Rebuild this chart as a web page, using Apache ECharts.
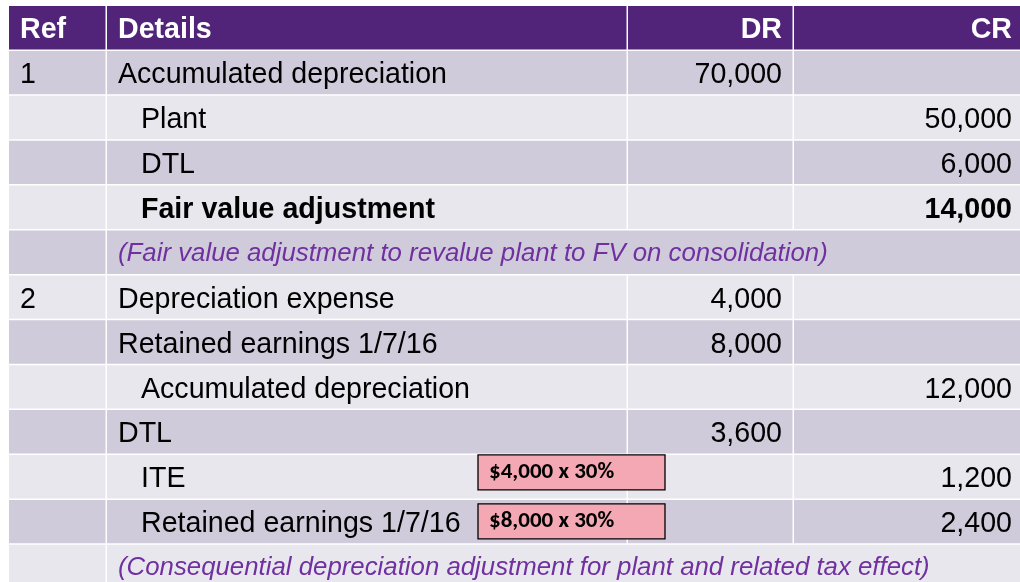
<!DOCTYPE html>
<html>
<head>
<meta charset="utf-8">
<script src="https://cdn.jsdelivr.net/npm/echarts@6/dist/echarts.min.js"></script>
<style>html,body{margin:0;padding:0;background:#fff;}#c{width:1020px;height:582px;}</style>
</head>
<body>
<div id="c"></div>
<script>
// ---- data ----
var headers = ['Ref', 'Details', 'DR', 'CR'];
var refs = ['1', '', '', '', '', '2', '', '', '', '', '', ''];
var details = [
  'Accumulated depreciation',
  'Plant',
  'DTL',
  'Fair value adjustment',
  '(Fair value adjustment to revalue plant to FV on consolidation)',
  'Depreciation expense',
  'Retained earnings 1/7/16',
  'Accumulated depreciation',
  'DTL',
  'ITE',
  'Retained earnings 1/7/16',
  '(Consequential depreciation adjustment for plant and related tax effect)'
];
var drValues = [70000, null, null, null, null, 4000, 8000, null, 3600, null, null, null];
var crValues = [null, 50000, 6000, 14000, null, null, null, 12000, null, 1200, 2400, null];
var rowKind = ['entry', 'entry', 'entry', 'entry', 'note', 'entry', 'entry', 'entry', 'entry', 'entry', 'entry', 'note'];
var indented = [false, true, true, true, false, false, false, true, false, true, true, false];
var boldRow = [false, false, false, true, false, false, false, false, false, false, false, false];
var annotations = ['', '', '', '', '', '', '', '', '', '$4,000 x 30%', '$8,000 x 30%', ''];

// ---- layout (styling, not data) ----
var colEdges = [0, 98, 619, 785, 1011]; // axis units = px inside grid
var annotationDy = { 9: -5, 10: -1 };    // vertical nudge of callout boxes (px)
var HEADER_BG = '#51247A';
var DARK_BG = '#CFCBDA';
var LIGHT_BG = '#E8E7EE';
var NOTE_COLOR = '#7030A0';
var FONT = 'Liberation Sans, Arial, sans-serif';
var FS = 28.6;
var TEXT_DY = 2;

var rowNames = ['header'].concat(details.map(function (d, i) { return 'r' + i; }));
var seriesData = rowNames.map(function (n, i) { return [i]; });

function fmt(v) { return v == null ? '' : v.toLocaleString('en-US'); }

function renderItem(params, api) {
  var idx = api.value(0);
  var yc = api.coord([0, idx])[1];
  var h = api.size([0, 1])[1];
  var top = yc - h / 2;
  var xs = colEdges.map(function (e) { return api.coord([e, idx])[0]; });
  var children = [];
  var gap = 1.5;
  function cell(x0, x1, fill) {
    children.push({
      type: 'rect',
      shape: { x: x0, y: top, width: x1 - x0 - gap, height: h - gap },
      style: { fill: fill }
    });
  }
  function txt(str, x, align, opts) {
    opts = opts || {};
    children.push({
      type: 'text',
      style: {
        text: str, x: x, y: yc + TEXT_DY + (opts.dy || 0),
        align: align, verticalAlign: 'middle',
        fontFamily: opts.family || FONT,
        fontSize: opts.size || FS,
        fontWeight: opts.weight || 'normal',
        fontStyle: opts.style || 'normal',
        fill: opts.color || '#000'
      }
    });
  }
  if (idx === 0) {
    for (var c = 0; c < 4; c++) cell(xs[c], xs[c + 1] + (c === 3 ? gap : 0), HEADER_BG);
    var o = { weight: 'bold', color: '#fff' };
    txt(headers[0], xs[0] + 11, 'left', o);
    txt(headers[1], xs[1] + 11, 'left', o);
    txt(headers[2], xs[3] - 12, 'right', o);
    txt(headers[3], xs[4] - 8, 'right', o);
    return { type: 'group', children: children };
  }
  var r = idx - 1;
  var bg = (r % 2 === 0) ? DARK_BG : LIGHT_BG;
  cell(xs[0], xs[1], bg);
  if (rowKind[r] === 'note') {
    cell(xs[1], xs[4] + gap, bg);
    txt(refs[r], xs[0] + 11, 'left');
    txt(details[r], xs[1] + 11, 'left', { style: 'italic', color: NOTE_COLOR, size: 25.8, dy: -1 });
  } else {
    cell(xs[1], xs[2], bg);
    cell(xs[2], xs[3], bg);
    cell(xs[3], xs[4] + gap, bg);
    var w = boldRow[r] ? 'bold' : 'normal';
    txt(refs[r], xs[0] + 11, 'left');
    txt(details[r], xs[1] + 11 + (indented[r] ? 23 : 0), 'left', { weight: w });
    txt(fmt(drValues[r]), xs[3] - 12, 'right', { weight: w });
    txt(fmt(crValues[r]), xs[4] - 8, 'right', { weight: w });
  }
  if (annotations[r]) {
    var bx0 = api.coord([469, idx])[0];
    var bx1 = api.coord([656, idx])[0];
    var bh = 35;
    var by = yc + (annotationDy[r] || 0) - bh / 2;
    children.push({
      type: 'rect',
      shape: { x: bx0, y: by, width: bx1 - bx0, height: bh },
      style: { fill: '#F4A8B3', stroke: '#000', lineWidth: 1.3 }
    });
    children.push({
      type: 'text',
      style: {
        text: annotations[r], x: bx0 + 11, y: by + bh / 2,
        align: 'left', verticalAlign: 'middle',
        fontFamily: 'Carlito, "Liberation Sans Narrow", "DejaVu Sans Condensed", sans-serif',
        fontSize: 23, fontWeight: 'bold', fill: '#000'
      }
    });
  }
  return { type: 'group', children: children };
}

var chart = echarts.init(document.getElementById('c'), null, { renderer: 'canvas' });
chart.setOption({
  animation: false,
  backgroundColor: '#fff',
  grid: { left: 9, right: 0, top: 6, height: 13 * 44.9, outerBoundsMode: 'none', containLabel: false },
  xAxis: { type: 'value', min: 0, max: 1011, show: false },
  yAxis: { type: 'category', data: rowNames, inverse: true, show: false },
  series: [{
    type: 'custom',
    renderItem: renderItem,
    data: seriesData,
    clip: false
  }]
});
</script>
</body>
</html>
